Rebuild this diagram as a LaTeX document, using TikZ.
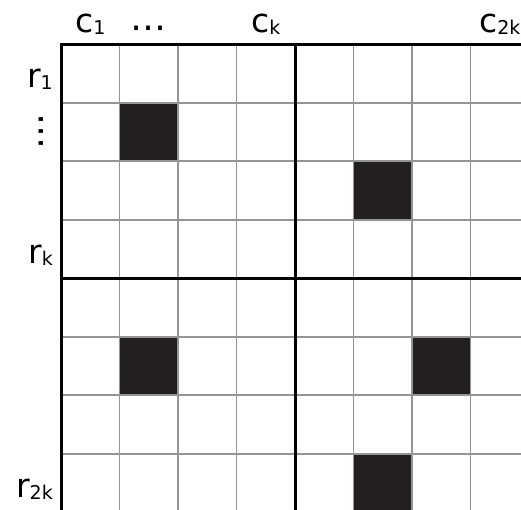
\documentclass[tikz,border=0pt]{standalone}
\usepackage{fontspec}
\setmainfont{DejaVu Sans}
\newcommand\mysub[1]{{\fontsize{19}{19}\selectfont\raisebox{-2pt}{#1}}}
\definecolor{cellblack}{HTML}{231F20}
\definecolor{gridgray}{HTML}{959595}
\tikzset{
  lbl/.style={font=\fontsize{33}{33}\selectfont, inner sep=0pt},
  dotlbl/.style={font=\fontsize{36}{36}\selectfont, inner sep=0pt},
  thinline/.style={draw=gridgray, line width=1.7pt},
  thickline/.style={draw=black, line width=3pt},
  filledcell/.style={fill=cellblack},
}
\begin{document}
\begin{tikzpicture}[x=1pt,y=-1pt]
\useasboundingbox (0,0) rectangle (521,510);
\clip (0,0) rectangle (521,510);
\fill[white] (0,0) rectangle (521,510);
\begin{scope}[shift={(61,44.3)}, x=58.5pt, y=-58.5pt]
  % black cells
  \foreach \c/\r in {1/1, 5/2, 1/5, 6/5, 5/7}
    \fill[filledcell] (\c,\r) rectangle (\c+1,\r+1);
  % thin grid lines
  \foreach \i in {1,2,3,5,6,7} {
    \draw[thinline] (\i,0) -- (\i,8);
    \draw[thinline] (0,\i) -- (8,\i);
  }
  % thick lines
  \draw[thickline] (0,8) -- (0,0) -- (8,0) -- (8,8) -- cycle;
  \draw[thickline] (4,0) -- (4,8);
  \draw[thickline] (0,4) -- (8,4);
\end{scope}
% column labels
\node[lbl, anchor=base] (c1) at (90.25,33) {c\mysub{1}};
\node[dotlbl] (cdots) at (148.75,28.3) {…};
\node[lbl, anchor=base] (ck) at (265.75,33) {c\mysub{k}};
\node[lbl, anchor=base] (c2k) at (499.75,33) {c\mysub{2k}};
% row labels
\node[lbl, anchor=base east] (r1) at (53,87.5) {r\mysub{1}};
\node[dotlbl, rotate=90] (rdots) at (41.3,132) {…};
\node[lbl, anchor=base east] (rk) at (53,263) {r\mysub{k}};
\node[lbl, anchor=base east] (r2k) at (53,497.5) {r\mysub{2k}};
\end{tikzpicture}
\end{document}
